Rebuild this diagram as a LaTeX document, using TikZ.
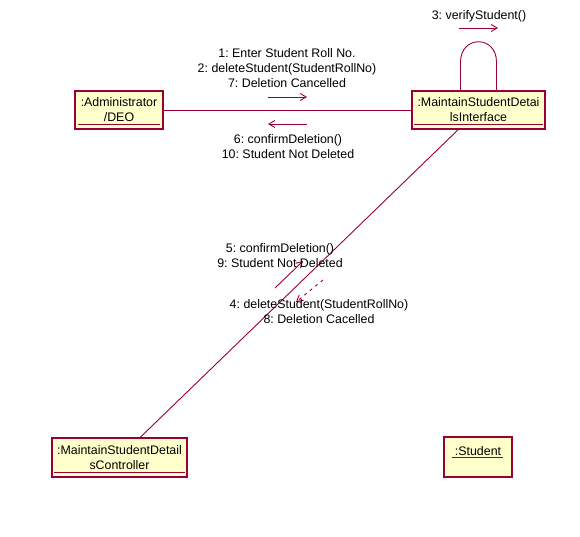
\documentclass[tikz,border=0pt]{standalone}
\usepackage{fontspec}
\setmainfont{Liberation Sans}
\usepackage{xcolor}
\usetikzlibrary{arrows.meta}
\definecolor{roseline}{RGB}{153,0,51}
\definecolor{rosefill}{RGB}{255,255,204}
\frenchspacing

\begin{document}
\begin{tikzpicture}[x=1pt, y=-1pt,
	obj/.style={draw=roseline, fill=rosefill, line width=1.4pt, inner sep=0pt, align=center, font=\fontsize{12.4}{15}\selectfont},
	link/.style={draw=roseline, line width=0.9pt},
	msg/.style={draw=roseline, line width=0.9pt, -{Straight Barb[length=6pt, width=7pt]}},
	lbl/.style={align=center, font=\fontsize{12.4}{15}\selectfont}]
	\useasboundingbox (0,0) rectangle (580,537);

	% objects
	\node[obj, minimum width=88pt,  minimum height=38pt] (admin)   at (119,110)     {:Administrator\\/DEO};
	\node[obj, minimum width=133pt, minimum height=38pt] (iface)   at (478.5,110)   {:MaintainStudentDetai\\lsInterface};
	\node[obj, minimum width=135pt, minimum height=39pt] (ctrl)    at (119.5,457.5) {:MaintainStudentDetail\\sController};
	\node[obj, minimum width=68pt,  minimum height=40pt] (student) at (478,457)     {};
	\node[lbl, anchor=base] (studentname) at (478,455) {:Student};

	% underlines
	\draw[link] ([shift={(4,-5)}]admin.south west) -- ([shift={(-4,-5)}]admin.south east);
	\draw[link] ([shift={(3,-5)}]iface.south west) -- ([shift={(-3,-5)}]iface.south east);
	\draw[link] ([shift={(3,-5)}]ctrl.south west) -- ([shift={(-3,-5)}]ctrl.south east);
	\draw[link] ([xshift=-26]student.center) -- ([xshift=25]student.center);

	% links
	\draw[link] (admin) -- (iface);
	\draw[link] (iface) -- (ctrl);
	\coordinate (loopA) at ([xshift=-18]iface.north);
	\coordinate (loopB) at ([xshift=18]iface.north);
	\draw[link] (loopA) -- (460.5,62) .. controls (460.5,35) and (496.5,35) .. (496.5,62) -- (loopB);

	% messages
	\coordinate (m1s) at (268,97);  \coordinate (m1e) at (307,97);
	\coordinate (m2s) at (307,124); \coordinate (m2e) at (268,124);
	\coordinate (m3s) at (459,28);  \coordinate (m3e) at (498,28);
	\coordinate (m4s) at (275,288); \coordinate (m4e) at (303,261);
	\coordinate (m5s) at (323,280); \coordinate (m5e) at (296,302);
	\draw[msg] (m1s) -- (m1e);
	\draw[msg] (m2s) -- (m2e);
	\draw[msg] (m3s) -- (m3e);
	\draw[msg] (m4s) -- (m4e);
	\draw[msg, dash pattern=on 3pt off 4pt] (m5s) -- (m5e);

	\node[lbl] (m1lbl) at (287,68)    {1: Enter Student Roll No.\\2: deleteStudent(StudentRollNo)\\7: Deletion Cancelled};
	\node[lbl] (m2lbl) at (288,146.5) {6: confirmDeletion()\\10: Student Not Deleted};
	\node[lbl, anchor=base] (m3lbl) at (479,19.5) {3: verifyStudent()};
	\node[lbl] (m4lbl) at (280,256)   {5: confirmDeletion()\\9: Student Not Deleted};
	\node[lbl] (m5lbl) at (319,311.5) {4: deleteStudent(StudentRollNo)\\8: Deletion Cacelled};
\end{tikzpicture}
\end{document}
